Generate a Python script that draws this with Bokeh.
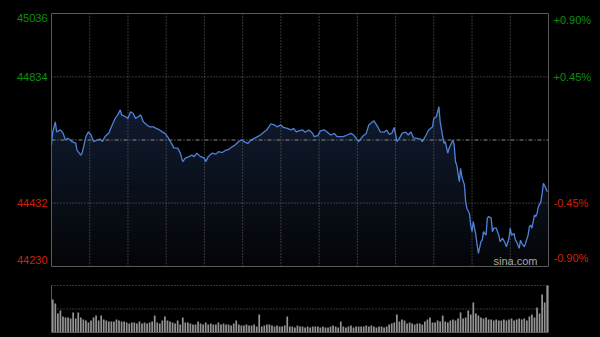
import numpy as np
from bokeh.plotting import figure
from bokeh.layouts import column
from bokeh.models import Range1d, Label
from bokeh.embed import file_html
from bokeh.resources import INLINE

# ---------------- data ----------------
prev_close = 44633
y_ticks_left = [45036, 44834, 44432, 44230]
y_ticks_left_labels = ["45036", "44834", "44432", "44230"]
y_ticks_right_labels = ["+0.90%", "+0.45%", "-0.45%", "-0.90%"]

minutes = [0,1,3,4,7,9,11,13,16,19,20,23,24,25,27,29,31,33,36,38,40,42,45,47,50,52,54,55,58,60,
           62,64,66,68,70,72,75,77,80,82,84,87,89,91,94,96,
           99,101,103,105,108,110,112,114,117,120,121,123,126,129,131,134,137,139,142,144,
           147,149,151,154,156,159,161,164,167,169,172,175,177,180,182,185,188,
           190,192,194,197,199,202,205,206,209,211,214,216,219,222,224,227,229,232,235,237,
           240,241,244,247,249,252,253,256,258,261,263,265,267,269,271,273,275,278,280,282,
           284,287,290,291,294,296,299,300,302,304,305,307,308,309,311,312,315,316,317,318,
           320,321,322,324,325,326,328,329,330,331,333,334,335,337,338,339,341,342,343,345,
           346,347,349,351,352,354,356,357,359,360,361,363,364,365,367,368,369,371,372,374,
           375,376,377,379,380,381,382,384,385,386,388,389]

price = [44617,44659,44691,44659,44665,44655,44633,44639,44628,44623,44601,44585,44591,44608,44644,
         44659,44649,44628,44633,44636,44628,44644,44655,44675,44702,44713,44729,44713,44707,44702,
         44723,44718,44702,44707,44713,44691,44681,44675,44675,44670,44667,44659,44654,44644,44623,44608,
         44607,44592,44564,44575,44580,44585,44580,44591,44580,44575,44564,44580,44591,44588,44596,
         44593,44601,44603,44612,44617,44628,44633,44628,44622,44631,44638,44642,44649,44659,44665,
         44684,44681,44675,44681,44673,44670,44665,
         44670,44659,44662,44665,44658,44665,44654,44644,44647,44662,44665,44659,44649,44654,44644,
         44644,44644,44649,44654,44649,44633,44628,44644,44654,44681,44691,44694,44675,44659,44658,
         44665,44651,44654,44673,44628,44638,44654,44658,44649,44659,
         44640,44638,44635,44628,44649,44665,44675,44702,44707,44739,44691,44644,44622,44628,44591,
         44607,44633,44617,44564,44553,44500,44543,44516,44490,44436,44415,44399,44362,44341,44373,
         44330,44298,44272,44309,44314,44341,44330,44384,44389,44384,44341,44352,44352,44330,44309,
         44320,44304,44293,44320,44352,44330,44335,44314,44309,44288,44314,44304,44293,44304,44330,
         44357,44362,44352,44394,44389,44399,44420,44436,44463,44495,44479,44468]

volume = [330,290,190,220,160,150,150,140,200,140, 200,150,130,120,100,120,150,170,120,170,
          130,120,110,110,110,130,120,110,110,100, 90,100,100,90,110,90,100,90,100,110,
          170,100,90,120,160,120,110,100,90,120, 80,150,100,100,90,80,80,110,90,80,
          100,80,90,80,80,100,80,90,80,80, 70,90,120,80,70,70,80,70,70,80,
          60,180,60,70,80,80,70,60,70,60, 60,70,160,60,60,50,70,60,60,50,
          60,50,60,60,60,50,60,50,50,60, 70,60,50,110,60,50,60,70,50,60,
          60,60,60,70,60,70,60,50,60,60, 50,60,80,90,100,180,110,130,120,90,
          100,90,80,90,90,80,110,130,150,100, 100,120,110,170,110,100,120,130,120,140,
          200,140,150,220,180,300,190,170,150,140, 150,130,130,120,130,120,120,130,120,130,
          140,120,130,140,130,140,120,160,180,150, 250,190,380,300,470]
volume_minutes = [2 * i + 1 for i in range(len(volume))]

assert len(minutes) == len(price)

# ---------------- style / layout ----------------
BG = "#000000"
GRID = "#6a6a6a"
FRAME = "#5a5a5a"
GREEN = "#0a900a"
RED = "#d0200a"
LINE = "#4f82d6"
FONT = "Liberation Sans"

T_MAX = 390
Y_LO, Y_HI = 44230, 45036
V_MAX = 470

W, H1, H2 = 600, 275, 62
FL, FR, FT, FB = 51, 548, 13, 266          # main frame edges in pixels
VT, VB = 10, 57                            # volume frame top/bottom inside its canvas
ppx = T_MAX / (FR - FL)
x_start = -FL * ppx
x_end = T_MAX + (W - FR) * ppx
ppy = (Y_HI - Y_LO) / (FB - FT)
y_end = Y_HI + FT * ppy
y_start = Y_LO - (H1 - FB) * ppy
ppv = V_MAX / (VB - VT)
v_end = V_MAX + VT * ppv
v_start = -(H2 - VB) * ppv


def base_fig(h, yr):
    f = figure(width=W, height=h, x_range=Range1d(x_start, x_end), y_range=yr,
               output_backend="svg", toolbar_location=None,
               min_border_left=0, min_border_right=0, min_border_top=0, min_border_bottom=0)
    f.background_fill_color = BG
    f.border_fill_color = BG
    f.outline_line_color = None
    f.axis.visible = False
    f.grid.visible = False
    return f


p = base_fig(H1, Range1d(y_start, y_end))

t = np.array(minutes, dtype=float)
pr = np.array(price, dtype=float)

# gradient-like fill under the curve
top_level = pr.max()
n_bands = 28
c_top = np.array([17, 27, 47])
c_bot = np.array([4, 5, 7])
levels = np.linspace(top_level, Y_LO, n_bands + 1)[:-1]
for lv in levels:
    frac = (lv - Y_LO) / (top_level - Y_LO)
    c = (c_bot + (c_top - c_bot) * frac).astype(int)
    col = "#%02x%02x%02x" % tuple(c)
    p.varea(x=t, y1=np.full_like(pr, Y_LO), y2=np.minimum(pr, lv), fill_color=col, fill_alpha=1.0)

# grid lines
gx = list(range(30, T_MAX, 30))
p.segment(x0=gx, y0=[Y_LO] * len(gx), x1=gx, y1=[Y_HI] * len(gx),
          line_color=GRID, line_dash="1 2", line_width=1)
gy = [44834, 44432]
p.segment(x0=[0] * 2, y0=gy, x1=[T_MAX] * 2, y1=gy, line_color=GRID, line_dash="1 2", line_width=1)
p.segment(x0=[0], y0=[prev_close], x1=[T_MAX], y1=[prev_close],
          line_color="#8a8a8a", line_dash="4 2 1 2", line_width=1)

p.line(t, pr, line_color=LINE, line_width=1.3)

# frame
p.quad(left=[0], right=[T_MAX], bottom=[Y_LO], top=[Y_HI], fill_color=None, line_color=FRAME, line_width=1)

# tick labels
baselines = ["top", "middle", "middle", "bottom"]
y_offs = [0, 0, 0, 3]
colors = [GREEN, GREEN, RED, RED]
for yv, lab, rlab, bl, yo, colr in zip(y_ticks_left, y_ticks_left_labels, y_ticks_right_labels,
                                       baselines, y_offs, colors):
    p.add_layout(Label(x=0, y=yv, text=lab, text_align="right", text_baseline=bl, x_offset=-4,
                       y_offset=yo, text_color=colr, text_font=FONT, text_font_size="11px"))
    p.add_layout(Label(x=T_MAX, y=yv, text=rlab, text_align="left", text_baseline=bl, x_offset=5,
                       y_offset=yo, text_color=colr, text_font=FONT, text_font_size="11px"))

p.add_layout(Label(x=T_MAX, y=Y_LO, text="sina.com", text_align="right", text_baseline="bottom",
                   x_offset=-11, y_offset=0, text_color="#a8a8a8", text_font=FONT, text_font_size="11px"))

# ---------------- volume panel ----------------
v = base_fig(H2, Range1d(v_start, v_end))

v.vbar(x=volume_minutes, top=volume, bottom=0, width=1.35, fill_color="#949494", line_color=None)

v.segment(x0=[0, 0], y0=[V_MAX, V_MAX / 2], x1=[T_MAX, T_MAX], y1=[V_MAX, V_MAX / 2],
          line_color=GRID, line_dash="1 2", line_width=1)
v.segment(x0=[0, 0, T_MAX], y0=[0, 0, 0], x1=[T_MAX, 0, T_MAX], y1=[0, V_MAX, V_MAX],
          line_color=FRAME, line_width=1)

layout = column(p, v, spacing=0)
html = file_html(layout, INLINE)
html = html.replace("<body>", "<body style=\"margin:0;background:#000;\">")
open("out.html", "w").write(html)
